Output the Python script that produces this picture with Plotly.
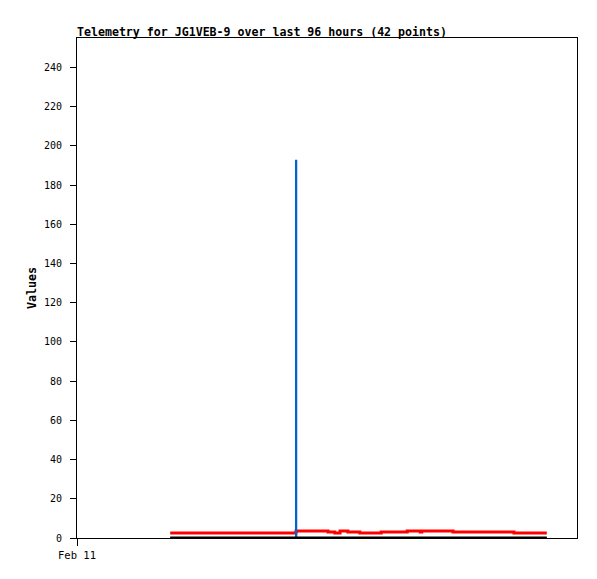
import pandas as pd
import plotly.graph_objects as go

# hours after Feb 11 00:00
hours = [17.9, 20.5, 23.0, 25.6, 28.2, 30.8, 33.4, 36.0, 38.6, 41.2,
         42.0, 42.05, 42.1, 44.5, 46.5, 48.2, 49.5, 50.5, 52.0, 54.3,
         56.3, 58.4, 60.5, 63.4, 65.9, 66.2, 68.5, 70.5, 72.2, 74.5,
         76.5, 78.5, 80.5, 82.5, 83.9, 85.0, 86.0, 87.0, 88.0, 89.0,
         89.6, 90.2]
red_vals = [2.6, 2.6, 2.6, 2.6, 2.6, 2.6, 2.6, 2.6, 2.6, 2.6,
            2.6, 3.6, 3.6, 3.6, 3.6, 3.1, 2.6, 3.6, 3.1, 2.6,
            2.6, 3.1, 3.1, 3.6, 3.1, 3.6, 3.6, 3.6, 3.1, 3.1,
            3.1, 3.1, 3.1, 3.1, 2.6, 2.6, 2.6, 2.6, 2.6, 2.6,
            2.6, 2.6]
blue_vals = [0, 0, 0, 0, 0, 0, 0, 0, 0, 0,
             0, 192.4, 0, 0, 0, 0, 0, 0, 0, 0,
             0, 0, 0, 0, 0, 0, 0, 0, 0, 0,
             0, 0, 0, 0, 0, 0, 0, 0, 0, 0,
             0, 0]
black_vals = [0] * 42

title_text = "Telemetry for JG1VEB-9 over last 96 hours (42 points)"
y_ticks = [0, 20, 40, 60, 80, 100, 120, 140, 160, 180, 200, 220, 240]
x_tick_vals = ["2024-02-11 00:00"]
x_tick_text = ["Feb 11"]

base = pd.Timestamp("2024-02-11 00:00")
times = [base + pd.Timedelta(hours=h) for h in hours]

fig = go.Figure()
fig.add_trace(go.Scatter(x=times, y=red_vals, mode="lines", line=dict(color="#ff0000", width=3, shape="hv"), showlegend=False))
fig.add_trace(go.Scatter(x=times, y=blue_vals, mode="lines", line=dict(color="#0066cc", width=2, shape="hv"), showlegend=False))
fig.add_trace(go.Scatter(x=times, y=black_vals, mode="lines", line=dict(color="#000000", width=3, shape="hv"), showlegend=False))

font_family = "DejaVu Sans Mono"
W, H = 589, 571
fig.update_layout(
    width=W, height=H,
    margin=dict(l=69, r=20, t=30, b=41),
    paper_bgcolor="white", plot_bgcolor="white",
    font=dict(family=font_family, size=10, color="#000000"),
    title=dict(text="<b>" + title_text + "</b>", x=0, xref="paper", xanchor="left",
               y=1 - 24 / H, yanchor="middle", font=dict(family=font_family, size=11.6, color="#000000")),
    xaxis=dict(type="date", range=[base, base + pd.Timedelta(hours=96)],
               tickvals=x_tick_vals, ticktext=x_tick_text, ticks="outside", ticklen=7,
               tickcolor="#000000", showgrid=False, zeroline=False, automargin=False,
               showline=True, linecolor="#000000", linewidth=1, mirror=True,
               tickfont=dict(family=font_family, size=10.5)),
    yaxis=dict(range=[0, 255], tickvals=y_ticks, ticks="outside", ticklen=6,
               tickcolor="#000000", showgrid=False, zeroline=False, automargin=False,
               showline=True, linecolor="#000000", linewidth=1, mirror=True,
               ticklabelstandoff=6,
               title=dict(text="<b>Values</b>", font=dict(family=font_family, size=11.7), standoff=4),
               tickfont=dict(family=font_family, size=10)),
)

fig.write_html("out.html")
